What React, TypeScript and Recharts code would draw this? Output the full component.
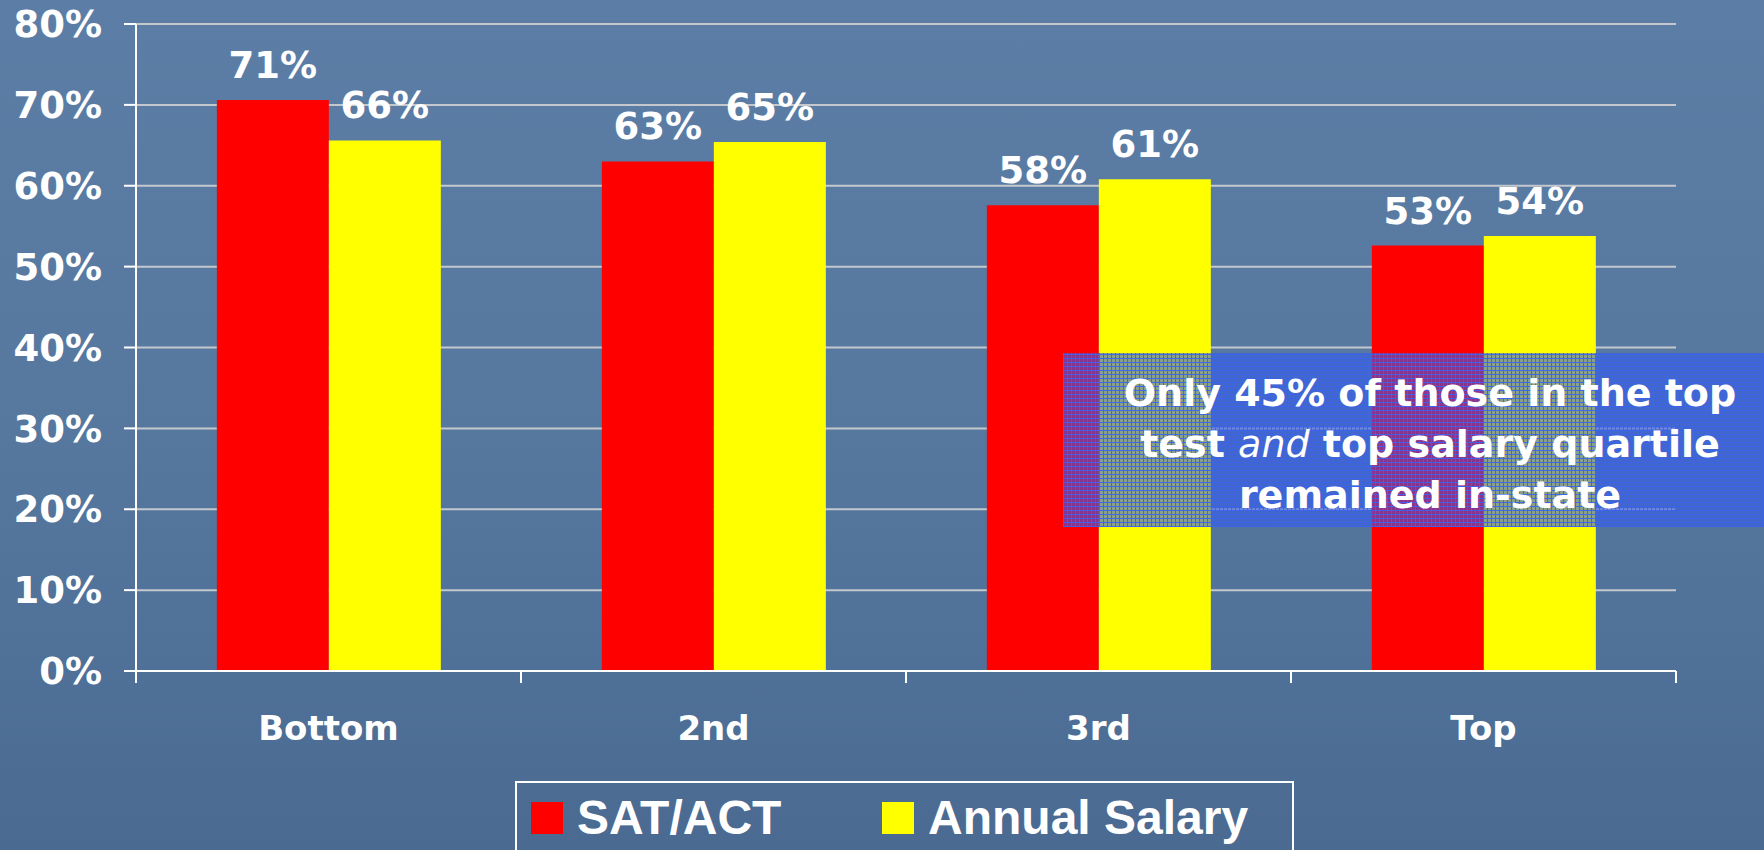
import { Bar, BarChart, CartesianGrid, LabelList, XAxis, YAxis } from "recharts";

const quartiles = ["Bottom", "2nd", "3rd", "Top"];
const satAct = [70.6, 63.0, 57.6, 52.6];
const annualSalary = [65.6, 65.4, 60.8, 53.8];
const yTicks = [0, 10, 20, 30, 40, 50, 60, 70, 80];
const seriesKeys = ["sat", "salary"];
const seriesNames = ["SAT/ACT", "Annual Salary"];
const seriesColors = ["#ff0000", "#ffff00"];
const noteLines = ["Only 45% of those in the top", "top salary quartile", "remained in-state"];

const data = quartiles.map((q, i) => ({ quartile: q, sat: satAct[i], salary: annualSalary[i] }));

const FONT = "'DejaVu Sans', Verdana, sans-serif";
const tickStyle = { fill: "#ffffff", fontSize: 37, fontWeight: "bold", fontFamily: FONT };
const X_LABEL_GAP = 45;

// the callout is a screened fill: a blue grid over a half-transparent blue
const calloutBlue = "rgba(58, 98, 240, 0.9)";
const calloutBg = [
  `repeating-linear-gradient(0deg, ${calloutBlue} 0 1px, transparent 1px 4px)`,
  `repeating-linear-gradient(90deg, ${calloutBlue} 0 1px, transparent 1px 4px)`,
].join(", ");

// category label, plus the tick marks sitting on the category edges (excel style)
function QuartileTick(props: any) {
  const { x, y, payload } = props;
  const half = payload.offset ?? 0;
  const axisY = y - X_LABEL_GAP;
  const isLast = payload.value === quartiles[quartiles.length - 1];
  return (
    <g>
      <line x1={x - half} x2={x - half} y1={axisY} y2={axisY + 12} stroke="#ffffff" strokeWidth={2} />
      {isLast && <line x1={x + half} x2={x + half} y1={axisY} y2={axisY + 12} stroke="#ffffff" strokeWidth={2} />}
      <text
        x={x}
        y={y}
        dy="0.71em"
        textAnchor="middle"
        fill="#ffffff"
        fontSize={34}
        fontWeight="bold"
        fontFamily={FONT}
      >
        {payload.value}
      </text>
    </g>
  );
}

export default function App() {
  return (
    <div
      style={{
        position: "absolute",
        left: 0,
        top: 0,
        width: 1764,
        height: 850,
        overflow: "hidden",
        background: "linear-gradient(180deg, #5c7ea6 0%, #56789f 50%, #4a6a92 100%)",
      }}
    >
      <BarChart
        width={1764}
        height={850}
        data={data}
        margin={{ top: 24, right: 88, bottom: 99, left: 0 }}
        barCategoryGap="21%"
        barGap={0}
      >
        <CartesianGrid vertical={false} stroke="#c4c8cd" strokeWidth={2} />
        <XAxis
          dataKey="quartile"
          height={80}
          tickSize={0}
          tickMargin={X_LABEL_GAP}
          axisLine={{ stroke: "#ffffff", strokeWidth: 2 }}
          tickLine={false}
          tick={<QuartileTick />}
        />
        <YAxis
          width={136}
          domain={[0, 80]}
          ticks={yTicks}
          tickFormatter={(v) => `${v}%`}
          tickSize={12}
          tickMargin={22}
          tick={tickStyle}
          tickLine={{ stroke: "#ffffff", strokeWidth: 2 }}
          axisLine={{ stroke: "#ffffff", strokeWidth: 2 }}
        />
        {seriesKeys.map((k, i) => (
          <Bar key={k} dataKey={k} name={seriesNames[i]} fill={seriesColors[i]} isAnimationActive={false}>
            <LabelList
              dataKey={k}
              position="top"
              offset={22}
              formatter={(v: number) => `${Math.round(v)}%`}
              fill="#ffffff"
              fontSize={37}
              fontWeight="bold"
              fontFamily={FONT}
            />
          </Bar>
        ))}
      </BarChart>

      {/* callout box */}
      <div
        style={{
          position: "absolute",
          left: 1063,
          top: 353,
          width: 701,
          height: 174,
          boxSizing: "border-box",
          paddingTop: 15,
          paddingLeft: 33,
          backgroundColor: "rgba(52, 92, 240, 0.58)",
          backgroundImage: calloutBg,
          color: "#ffffff",
          fontFamily: FONT,
          fontWeight: "bold",
          fontSize: 38,
          lineHeight: "51px",
          textAlign: "center",
          whiteSpace: "nowrap",
        }}
      >
        <div>{noteLines[0]}</div>
        <div>
          test <span style={{ fontStyle: "italic", fontWeight: "normal" }}>and</span> {noteLines[1]}
        </div>
        <div>{noteLines[2]}</div>
      </div>

      {/* legend */}
      <div
        style={{
          position: "absolute",
          left: 515,
          top: 781,
          width: 779,
          height: 100,
          boxSizing: "border-box",
          border: "2px solid #ffffff",
          paddingTop: 7,
          paddingLeft: 14,
          display: "flex",
          alignItems: "baseline",
          fontFamily: "'Liberation Sans', Arial, sans-serif",
          fontWeight: "bold",
          fontSize: 48,
          lineHeight: "56px",
          color: "#ffffff",
        }}
      >
        {seriesNames.map((name, i) => (
          <div key={name} style={{ display: "flex", alignItems: "baseline", width: i === 0 ? 351 : "auto" }}>
            <span
              style={{ display: "inline-block", width: 32, height: 32, background: seriesColors[i], marginRight: 14 }}
            />
            <span>{name}</span>
          </div>
        ))}
      </div>
    </div>
  );
}
